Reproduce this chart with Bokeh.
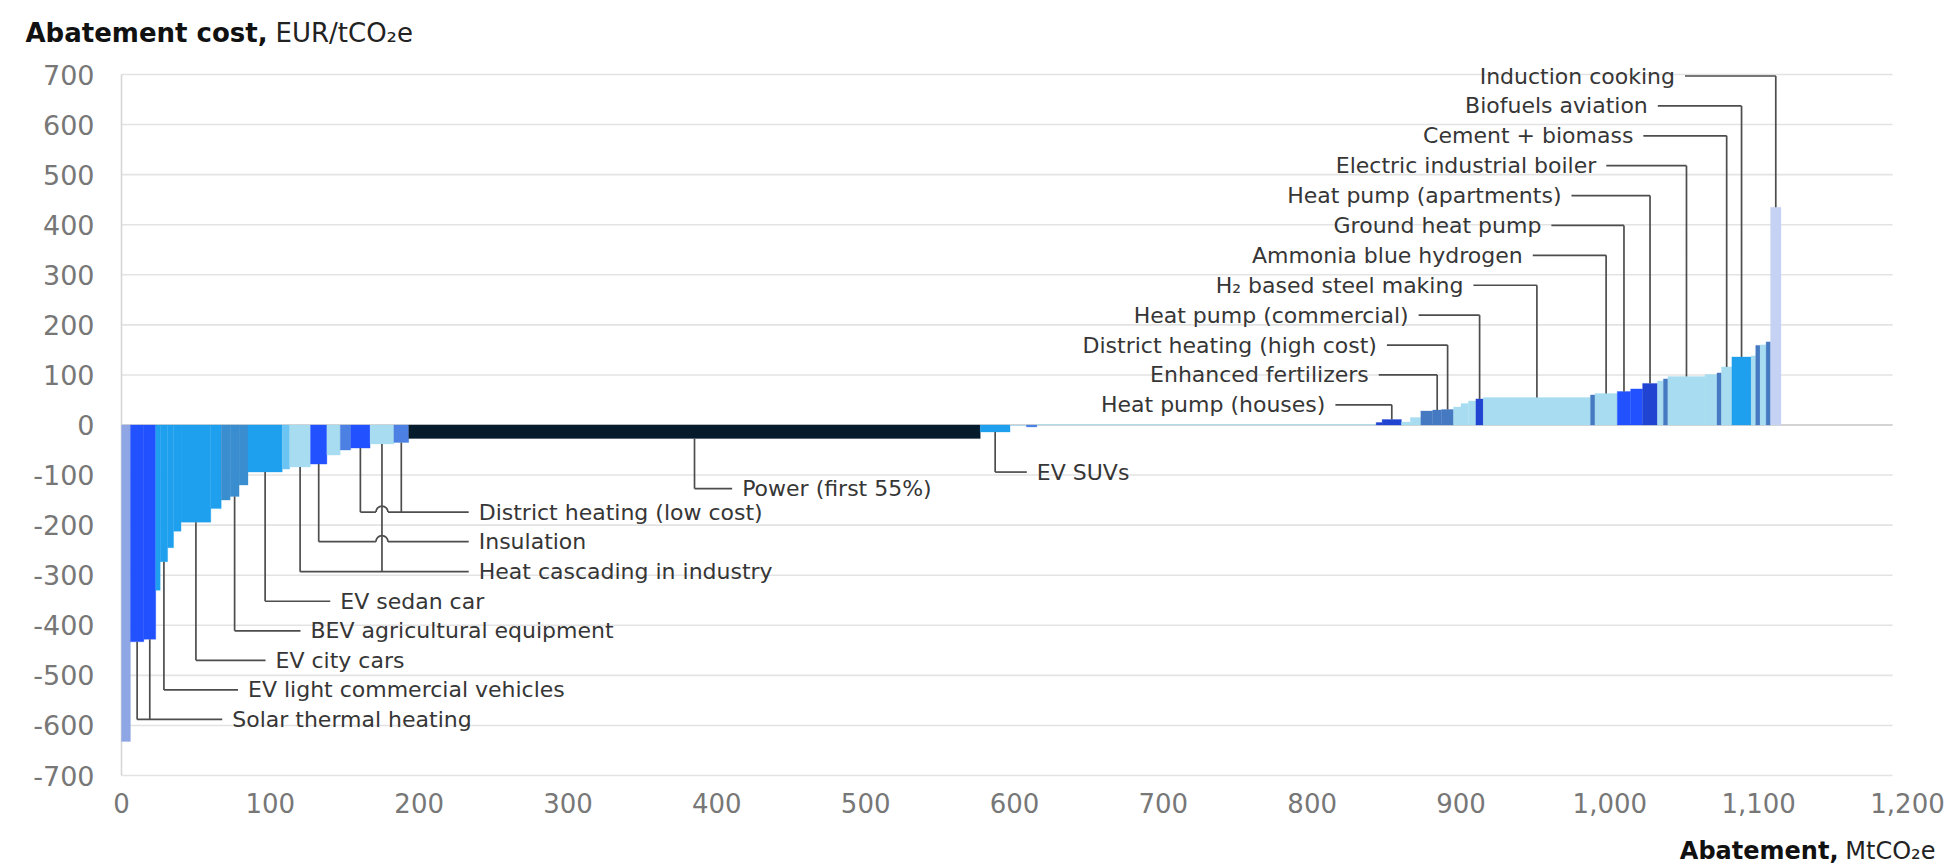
import numpy as np
from bokeh.plotting import figure
from bokeh.models import Range1d, ColumnDataSource
from bokeh.core.properties import value
from bokeh.embed import file_html
from bokeh.resources import INLINE

# ---------------------------------------------------------------- data
# Abatement volume of each lever, MtCO2e, in merit order (cheapest first)
widths = [6, 9, 8, 3, 5, 4, 5, 20, 7, 6, 6, 6, 23, 5, 14, 11, 9, 7, 13, 16, 10,
          384, 20, 11, 7, 228,
          4, 13, 6, 7, 8, 6, 8, 5, 5, 5, 5, 72, 3, 15, 9, 8, 10, 4, 3, 25, 8, 3,
          7, 13, 3, 3, 4, 3, 7]
# Abatement cost of each lever, EUR/tCO2e
costs = [-632, -433, -428, -330, -273, -245, -212, -194, -167, -150, -143, -120,
         -94, -88, -84, -78, -60, -50, -46, -38, -35,
         -27, -14, -1, -4, 1,
         5, 11, 6, 15, 28, 30, 31, 36, 43, 48, 52, 55, 60, 63, 67, 72, 83, 88,
         92, 97, 101, 104, 116, 136, 138, 159, 160, 166, 435]
# Colour family of each lever
shades = ["slate", "blue", "blue", "sky", "sky", "sky", "sky", "sky", "sky",
          "teal", "teal", "teal", "sky", "lightsky", "pale", "blue", "pale",
          "mid", "blue", "pale", "mid",
          "navy", "sky", "pale", "mid", "pale",
          "deep", "deep", "pale", "pale", "steel", "steel", "steel", "pale",
          "pale", "pale", "deep", "pale", "steel", "pale", "blue", "blue",
          "deep", "pale", "steel", "pale", "pale", "steel", "pale", "sky",
          "pale", "steel", "pale", "steel", "mist"]

# Named levers: (label, indices of the bars it points to)
left_callouts = [
    ("District heating (low cost)", [18, 20]),
    ("Insulation", [15]),
    ("Heat cascading in industry", [14, 19]),
    ("EV sedan car", [12]),
    ("BEV agricultural equipment", [10]),
    ("EV city cars", [7]),
    ("EV light commercial vehicles", [4]),
    ("Solar thermal heating", [1, 2]),
    ("Power (first 55%)", [21]),
    ("EV SUVs", [22]),
]
right_callouts = [
    ("Induction cooking", [54]),
    ("Biofuels aviation", [49]),
    ("Cement + biomass", [48]),
    ("Electric industrial boiler", [45]),
    ("Heat pump (apartments)", [42]),
    ("Ground heat pump", [40]),
    ("Ammonia blue hydrogen", [39]),
    ("H\u2082 based steel making", [37]),
    ("Heat pump (commercial)", [36]),
    ("District heating (high cost)", [32]),
    ("Enhanced fertilizers", [31]),
    ("Heat pump (houses)", [27]),
]

y_ticks = list(range(-700, 701, 100))
x_ticks = list(range(0, 1201, 100))

# ---------------------------------------------------------------- label placement
left_levels = [-174, -233, -293, -352, -411, -470, -529, -588, -127, -94]
left_text_x = [240, 240, 240, 147, 127, 103.5, 85, 74.4, 417, 615]
right_levels = [697 - 59.7 * i for i in range(len(right_callouts))]
right_text_x = [1043.8, 1025.5, 1015.8, 990.9, 967.5, 954, 941.5, 901.6,
                864.8, 843.5, 838, 808.9]

palette = {
    "slate": "#8EA6E4", "blue": "#2251FF", "sky": "#1FA0EE", "teal": "#3A8ECF",
    "pale": "#A8DDF1", "mid": "#4C80E2", "navy": "#061B2C", "deep": "#2143D2",
    "steel": "#4579C2", "mist": "#C6D2F4", "lightsky": "#6CC4F2",
}

# ---------------------------------------------------------------- geometry
# The plotting frame fills the whole canvas; the chart area (0..1200 x -700..700)
# sits inside it at pixel box (FL, FT, FW, FH), leaving room for the axis texts.
W, H = 1945, 866
FL, FT, FW, FH = 121, 74, 1786, 701
X_MAX, Y_MIN, Y_MAX = 1200, -700, 700
PX_PER_X = FW / X_MAX


def px_x(px):
    return (px - FL) / PX_PER_X


def px_y(py):
    return Y_MAX - (py - FT) * (Y_MAX - Y_MIN) / FH


FONT = "DejaVu Sans"
TEXT_COLOR = "#363636"
LEADER_COLOR = "#4D4D4D"
TICK_COLOR = "#777777"

p = figure(width=W, height=H, output_backend="svg", toolbar_location=None,
           x_range=Range1d(px_x(0), px_x(W)), y_range=Range1d(px_y(H), px_y(0)),
           min_border=0)
p.outline_line_color = None
p.axis.visible = False
p.grid.visible = False
p.background_fill_color = "white"
p.border_fill_color = "white"

# horizontal gridlines and left axis line
grid_src = ColumnDataSource(dict(x0=[0] * len(y_ticks), x1=[1190] * len(y_ticks),
                                 y=y_ticks,
                                 c=["#C6C6C6" if t == 0 else "#E3E3E3" for t in y_ticks]))
p.segment(x0="x0", y0="y", x1="x1", y1="y", color="c", line_width=1.6, source=grid_src)
p.segment(x0=[0], y0=[Y_MIN], x1=[0], y1=[Y_MAX], color="#D6D6D6", line_width=1.6)

# tick labels
p.text(x=[px_x(94)] * len(y_ticks), y=y_ticks, text=[str(t) for t in y_ticks],
       text_align="right", text_baseline="middle", text_font=value(FONT),
       text_font_size="27px", text_color=TICK_COLOR)
p.text(x=x_ticks, y=[px_y(792)] * len(x_ticks), text=[f"{t:,}" for t in x_ticks],
       text_align="center", text_baseline="top", text_font=value(FONT),
       text_font_size="26px", text_color=TICK_COLOR)

# bars of the cost curve
right_edge = np.cumsum(widths)
left_edge = right_edge - np.array(widths)
bar_src = ColumnDataSource(dict(
    left=left_edge, right=right_edge,
    top=[max(0, c) for c in costs], bottom=[min(0, c) for c in costs],
    color=[palette[s] for s in shades]))
p.quad(left="left", right="right", top="top", bottom="bottom",
       fill_color="color", line_color="color", line_width=0.3, source=bar_src)

mid = (left_edge + right_edge) / 2

# leader lines
GAP = 10 / PX_PER_X
HOP = 6 / PX_PER_X
verticals = []   # (owner, x, y_from, y_to)
horizontals = []  # (owner, x_from, x_to, y)
texts = []
for k, ((name, idx), lvl, tx) in enumerate(zip(left_callouts, left_levels, left_text_x)):
    for i in idx:
        verticals.append((("L", k), mid[i], costs[i], lvl))
    horizontals.append((("L", k), min(mid[i] for i in idx), tx - GAP, lvl))
    texts.append((tx, lvl, name, "left"))
for k, ((name, idx), lvl, tx) in enumerate(zip(right_callouts, right_levels, right_text_x)):
    for i in idx:
        verticals.append((("R", k), mid[i], costs[i], lvl))
    horizontals.append((("R", k), tx + GAP, max(mid[i] for i in idx), lvl))
    texts.append((tx, lvl, name, "right"))

xs, ys = [], []
hop_x, hop_y = [], []
for owner, vx, y0, y1 in verticals:
    xs.append([vx, vx])
    ys.append([y0, y1])
for owner, x0, x1, y in horizontals:
    cuts = sorted(vx for o, vx, a, b in verticals
                  if o != owner and x0 < vx < x1 and min(a, b) < y < max(a, b))
    start = x0
    for c in cuts:
        xs.append([start, c - HOP])
        ys.append([y, y])
        hop_x.append(c)
        hop_y.append(y)
        start = c + HOP
    xs.append([start, x1])
    ys.append([y, y])

p.multi_line(xs=xs, ys=ys, line_color=LEADER_COLOR, line_width=1.7)
if hop_x:
    p.arc(x=hop_x, y=hop_y, radius=6, radius_units="screen", start_angle=0,
          end_angle=np.pi, direction="anticlock", line_color=LEADER_COLOR,
          line_width=1.7)

for align in ("left", "right"):
    sel = [t for t in texts if t[3] == align]
    p.text(x=[t[0] for t in sel], y=[t[1] for t in sel], text=[t[2] for t in sel],
           text_align=align, text_baseline="middle", text_font=value(FONT),
           text_font_size="22px", text_color=TEXT_COLOR)

# axis titles
p.text(x=[px_x(25)], y=[px_y(32)], text=["Abatement cost,"], text_font=value(FONT),
       text_font_size="26px", text_font_style="bold", text_color="#111111",
       text_baseline="alphabetic", text_align="left")
p.text(x=[px_x(275)], y=[px_y(32)], text=["EUR/tCO\u2082e"], text_font=value(FONT),
       text_font_size="26px", text_color="#222222",
       text_baseline="alphabetic", text_align="left")
p.text(x=[px_x(1838)], y=[px_y(864)], text=["Abatement,"], text_font=value(FONT),
       text_font_size="24px", text_font_style="bold", text_color="#111111",
       text_baseline="bottom", text_align="right")
p.text(x=[px_x(1935)], y=[px_y(864)], text=["MtCO\u2082e"], text_font=value(FONT),
       text_font_size="24px", text_color="#222222",
       text_baseline="bottom", text_align="right")

open("out.html", "w").write(file_html(p, INLINE))
